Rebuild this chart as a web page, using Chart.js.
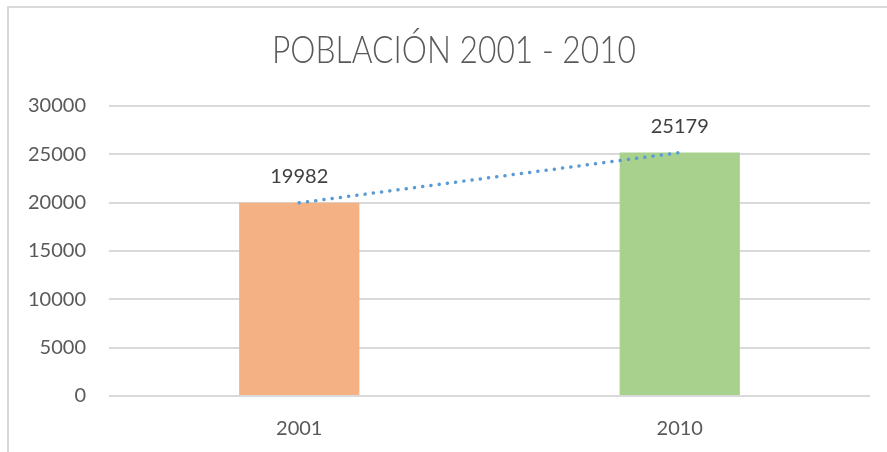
<!DOCTYPE html>
<html><head><meta charset="utf-8">
<script src="https://cdn.jsdelivr.net/npm/chart.js@4/dist/chart.umd.min.js"></script>
<style>html,body{margin:0;padding:0;background:#fff}#wrap{width:887px;height:452px;position:relative}</style>
</head><body><div id="wrap"><canvas id="c" width="887" height="452"></canvas></div>
<script>
const titleText = "POBLACIÓN 2001 - 2010";
const categories = ["2001", "2010"];
const population = [19982, 25179];
const barColors = ["#F4B183", "#A9D18E"];
const yTicks = [0, 5000, 10000, 15000, 20000, 25000, 30000];

// linear trendline (least squares over category index)
function trend(vals){
  const n = vals.length; let sx=0, sy=0, sxy=0, sxx=0;
  vals.forEach((v,i)=>{sx+=i;sy+=v;sxy+=i*v;sxx+=i*i;});
  const b=(n*sxy-sx*sy)/(n*sxx-sx*sx), a=(sy-b*sx)/n;
  return vals.map((v,i)=>a+b*i);
}
const FONT = "Lato, 'Open Sans', sans-serif";

const deco = {
  id:'deco',
  beforeDraw(chart){
    const ctx=chart.ctx;
    ctx.save();
    ctx.strokeStyle='#D9D9D9'; ctx.lineWidth=2;
    ctx.beginPath(); ctx.moveTo(8,452); ctx.lineTo(8,7); ctx.lineTo(887,7); ctx.stroke();
    ctx.fillStyle='#595959';
    ctx.font="300 37px "+FONT;
    ctx.textAlign='center'; ctx.textBaseline='middle';
    const w = ctx.measureText(titleText).width;
    const sx = 364 / w;
    ctx.translate(454, 51); ctx.scale(sx, 1);
    ctx.fillText(titleText, 0, 0);
    ctx.restore();
  },
  afterDatasetsDraw(chart){
    const ctx=chart.ctx; const meta=chart.getDatasetMeta(1);
    ctx.save(); ctx.fillStyle='#404040'; ctx.font="20px "+FONT;
    ctx.textAlign='center'; ctx.textBaseline='middle';
    meta.data.forEach((el,i)=>{ ctx.fillText(String(population[i]), el.x, el.y-26); });
    ctx.restore();
  }
};

new Chart(document.getElementById('c'), {
  data:{
    labels:categories,
    datasets:[
      {type:'line', data:trend(population), borderColor:'#5B9BD5', borderWidth:3.5,
       borderDash:[0.1,8.2], borderCapStyle:'round', pointRadius:0, fill:false, order:0},
      {type:'bar', data:population, backgroundColor:barColors, categoryPercentage:1, barPercentage:0.316, order:1}
    ]
  },
  options:{
    responsive:false, animation:false, devicePixelRatio:1,
    layout:{padding:{top:106, right:17, left:0, bottom:0}},
    plugins:{legend:{display:false}, tooltip:{enabled:false}, title:{display:false}},
    scales:{
      x:{
        grid:{display:false}, border:{display:false},
        ticks:{color:'#595959', font:{family:FONT, size:20}, padding:13},
        afterFit(s){ s.height=56; }
      },
      y:{
        min:0, max:30000,
        afterBuildTicks(s){ s.ticks = yTicks.map(v=>({value:v})); },
        grid:{color:'#D9D9D9', lineWidth:2, drawTicks:false},
        border:{display:false},
        ticks:{color:'#595959', font:{family:FONT, size:20}, padding:23, callback:(v)=>String(v)},
        afterFit(s){ s.width=109; }
      }
    }
  },
  plugins:[deco]
});
</script></body></html>
